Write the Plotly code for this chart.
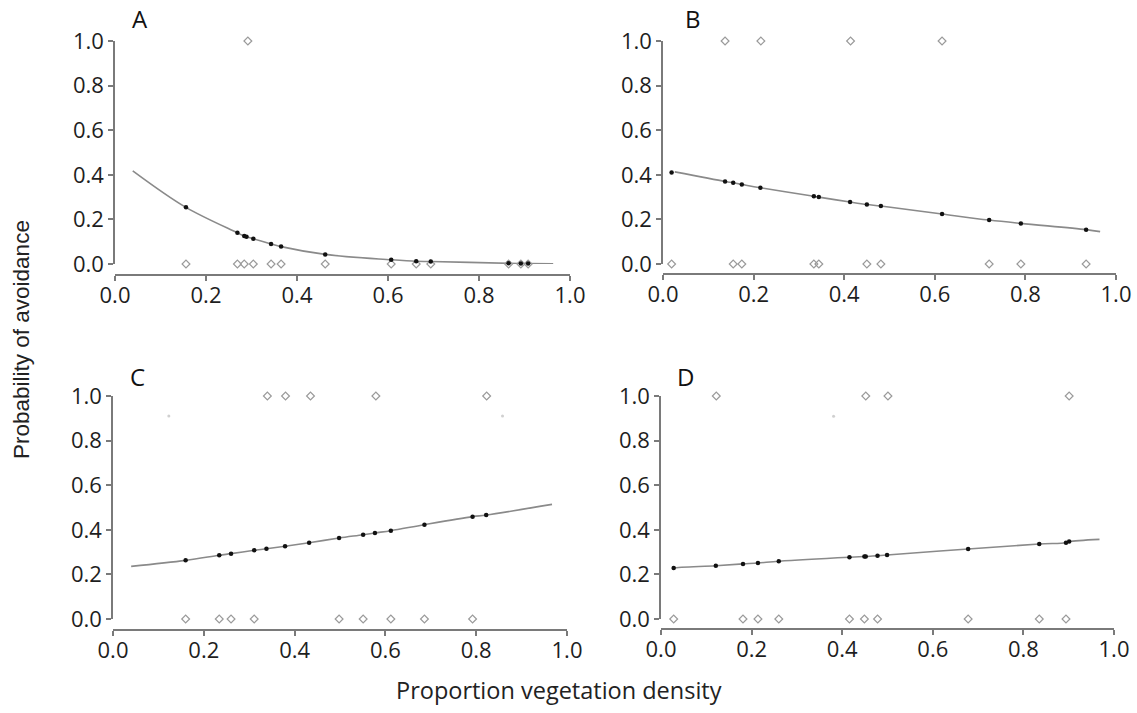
import plotly.graph_objects as go

# ---------------- data ----------------
# Panel A
a_fit_x = [0.039, 0.156, 0.269, 0.284, 0.289, 0.304, 0.343, 0.365, 0.462, 0.607, 0.662, 0.694, 0.865, 0.892, 0.908, 0.963]
a_fit_y = [0.418, 0.254, 0.140, 0.125, 0.122, 0.113, 0.090, 0.078, 0.043, 0.019, 0.012, 0.011, 0.003, 0.002, 0.002, 0.001]
a_pts_x = [0.156, 0.269, 0.284, 0.289, 0.304, 0.343, 0.365, 0.462, 0.607, 0.662, 0.694, 0.865, 0.892, 0.908]
a_pts_y = [0.254, 0.140, 0.125, 0.122, 0.113, 0.090, 0.078, 0.043, 0.019, 0.012, 0.011, 0.003, 0.002, 0.002]
a_obs0_x = [0.156, 0.269, 0.284, 0.304, 0.343, 0.365, 0.462, 0.607, 0.662, 0.694, 0.865, 0.892, 0.908]
a_obs1_x = [0.292]

# Panel B
b_fit_x = [0.026, 0.137, 0.155, 0.174, 0.215, 0.333, 0.344, 0.413, 0.450, 0.481, 0.616, 0.720, 0.790, 0.934, 0.965]
b_fit_y = [0.413, 0.370, 0.364, 0.357, 0.342, 0.304, 0.300, 0.278, 0.267, 0.260, 0.224, 0.197, 0.182, 0.154, 0.145]
b_pts_x = [0.019, 0.137, 0.155, 0.174, 0.215, 0.333, 0.344, 0.413, 0.450, 0.481, 0.616, 0.720, 0.790, 0.934]
b_pts_y = [0.410, 0.370, 0.364, 0.357, 0.342, 0.304, 0.300, 0.278, 0.267, 0.260, 0.224, 0.197, 0.182, 0.154]
b_obs0_x = [0.019, 0.155, 0.174, 0.333, 0.344, 0.450, 0.481, 0.720, 0.790, 0.934]
b_obs1_x = [0.137, 0.216, 0.414, 0.616]

# Panel C
c_fit_x = [0.040, 0.160, 0.234, 0.260, 0.311, 0.338, 0.379, 0.432, 0.498, 0.551, 0.577, 0.612, 0.686, 0.792, 0.822, 0.967]
c_fit_y = [0.236, 0.263, 0.286, 0.293, 0.308, 0.315, 0.326, 0.342, 0.363, 0.378, 0.386, 0.396, 0.423, 0.459, 0.466, 0.514]
c_pts_x = [0.160, 0.234, 0.260, 0.311, 0.338, 0.379, 0.432, 0.498, 0.551, 0.577, 0.612, 0.686, 0.792, 0.822]
c_pts_y = [0.263, 0.286, 0.293, 0.308, 0.315, 0.326, 0.342, 0.363, 0.378, 0.386, 0.396, 0.423, 0.459, 0.466]
c_obs0_x = [0.160, 0.234, 0.260, 0.311, 0.498, 0.551, 0.612, 0.686, 0.792]
c_obs1_x = [0.340, 0.380, 0.435, 0.579, 0.823]
c_faint_x = [0.123, 0.858]
c_faint_y = [0.91, 0.91]

# Panel D
d_fit_x = [0.024, 0.028, 0.121, 0.181, 0.214, 0.260, 0.416, 0.449, 0.452, 0.478, 0.499, 0.678, 0.835, 0.894, 0.901, 0.968]
d_fit_y = [0.226, 0.229, 0.239, 0.247, 0.251, 0.259, 0.277, 0.280, 0.280, 0.284, 0.287, 0.314, 0.336, 0.342, 0.347, 0.357]
d_pts_x = [0.028, 0.121, 0.181, 0.214, 0.260, 0.416, 0.449, 0.452, 0.478, 0.499, 0.678, 0.835, 0.894, 0.901]
d_pts_y = [0.229, 0.239, 0.247, 0.251, 0.259, 0.277, 0.280, 0.280, 0.284, 0.287, 0.314, 0.336, 0.342, 0.347]
d_obs0_x = [0.028, 0.181, 0.214, 0.260, 0.416, 0.449, 0.478, 0.678, 0.835, 0.894]
d_obs1_x = [0.122, 0.452, 0.501, 0.901]
d_faint_x = [0.381]
d_faint_y = [0.909]

panel_labels = ["A", "B", "C", "D"]
tick_vals = [0.0, 0.2, 0.4, 0.6, 0.8, 1.0]
tick_text = ["0.0", "0.2", "0.4", "0.6", "0.8", "1.0"]
x_title = "Proportion vegetation density"
y_title = "Probability of avoidance"

# ---------------- layout geometry (pixels) ----------------
W, H = 1137, 713
# (x0px, x1px, y1px(top, value 1), y0px(value 0), xaxis line px)
geom = [
    (115, 570, 41, 264, 275),
    (663, 1116, 41, 264, 274),
    (113, 567, 396, 619, 630),
    (661, 1114, 396, 619, 629),
]

SANS = "'Open Sans', Lato, sans-serif"
TICK_FONT = dict(family=SANS, size=22, color="#1e1e1e")
AX_COL = "#7a7a7a"
LINE_COL = "#8a8a8a"
OPEN_COL = "#9a9a9a"

fig = go.Figure()

panels = [
    (a_fit_x, a_fit_y, a_pts_x, a_pts_y, a_obs0_x, a_obs1_x, [], []),
    (b_fit_x, b_fit_y, b_pts_x, b_pts_y, b_obs0_x, b_obs1_x, [], []),
    (c_fit_x, c_fit_y, c_pts_x, c_pts_y, c_obs0_x, c_obs1_x, c_faint_x, c_faint_y),
    (d_fit_x, d_fit_y, d_pts_x, d_pts_y, d_obs0_x, d_obs1_x, d_faint_x, d_faint_y),
]

layout_axes = {}
for i, (fx, fy, px, py, o0, o1, gx, gy) in enumerate(panels):
    n = i + 1
    xa = "x" if n == 1 else f"x{n}"
    ya = "y" if n == 1 else f"y{n}"
    x0p, x1p, ytp, ybp, axp = geom[i]
    common = dict(xaxis=xa, yaxis=ya, showlegend=False, cliponaxis=False, hoverinfo="x+y")
    fig.add_trace(go.Scatter(x=fx, y=fy, mode="lines", line=dict(color=LINE_COL, width=1.6, shape="spline"), **common))
    fig.add_trace(go.Scatter(x=o0, y=[0.0] * len(o0), mode="markers",
                             marker=dict(symbol="diamond-open", size=6, color=OPEN_COL, line=dict(width=1.2)), **common))
    fig.add_trace(go.Scatter(x=o1, y=[1.0] * len(o1), mode="markers",
                             marker=dict(symbol="diamond-open", size=6, color=OPEN_COL, line=dict(width=1.2)), **common))
    if gx:
        fig.add_trace(go.Scatter(x=gx, y=gy, mode="markers",
                                 marker=dict(symbol="circle", size=3, color="#d0d0d0"), **common))
    fig.add_trace(go.Scatter(x=px, y=py, mode="markers",
                             marker=dict(symbol="circle", size=4.5, color="#111"), **common))

    xkey = "xaxis" if n == 1 else f"xaxis{n}"
    ykey = "yaxis" if n == 1 else f"yaxis{n}"
    layout_axes[xkey] = dict(
        domain=[x0p / W, x1p / W], range=[0, 1], anchor="free", position=1 - axp / H,
        showline=True, linecolor=AX_COL, linewidth=1.5, ticks="outside", ticklen=5, tickwidth=1.5,
        tickcolor=AX_COL, tickvals=tick_vals, ticktext=tick_text, tickfont=TICK_FONT,
        ticklabelstandoff=-4,
        showgrid=False, zeroline=False, fixedrange=True, automargin=False,
    )
    layout_axes[ykey] = dict(
        domain=[1 - ybp / H, 1 - ytp / H], range=[0, 1], anchor=xa,
        showline=True, linecolor=AX_COL, linewidth=1.5, ticks="outside", ticklen=5, tickwidth=1.5,
        tickcolor=AX_COL, tickvals=tick_vals, ticktext=tick_text, tickfont=TICK_FONT,
        showgrid=False, zeroline=False, fixedrange=True, automargin=False,
    )

label_pos = [(130, 19), (683, 19), (128, 376), (675, 376)]
annotations = []
for lab, (lx, ly) in zip(panel_labels, label_pos):
    annotations.append(dict(text=lab, x=lx / W, y=1 - ly / H, xref="paper", yref="paper",
                            xanchor="left", yanchor="middle", showarrow=False,
                            font=dict(family=SANS, size=24, color="#111")))
annotations.append(dict(text=x_title, x=559 / W, y=1 - 690 / H, xref="paper", yref="paper",
                        xanchor="center", yanchor="middle", showarrow=False,
                        font=dict(family=SANS, size=23.5, color="#222")))
annotations.append(dict(text=y_title, x=21 / W, y=1 - 340 / H, xref="paper", yref="paper",
                        xanchor="center", yanchor="middle", showarrow=False, textangle=-90,
                        font=dict(family="'Liberation Sans', Arial, sans-serif", size=22.5, color="#222")))

fig.update_layout(
    width=W, height=H, margin=dict(l=0, r=0, t=0, b=0, pad=0, autoexpand=False),
    paper_bgcolor="white", plot_bgcolor="white",
    annotations=annotations, **layout_axes,
)

fig.write_html("out.html", config={"displayModeBar": False},
               post_script="document.body.style.margin='0';document.body.style.overflow='hidden';")
